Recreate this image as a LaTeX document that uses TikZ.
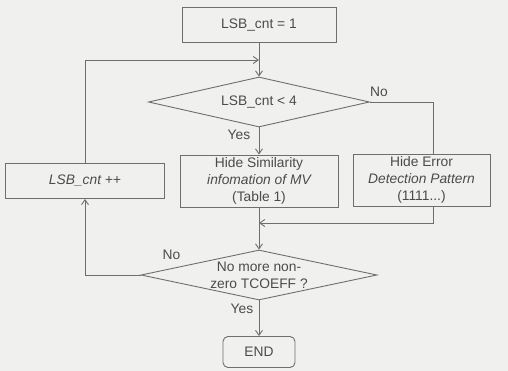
\documentclass[tikz,border=0pt]{standalone}
\usepackage{fontspec}
\setmainfont{Liberation Sans}
\usepackage{tikz}
\usetikzlibrary{arrows.meta,shapes.geometric}

\definecolor{linegray}{RGB}{110,110,110}
\definecolor{textgray}{RGB}{75,75,75}
\definecolor{paper}{RGB}{240,240,238}

\begin{document}
\begin{tikzpicture}[x=1pt,y=-1pt]
        \tikzstyle{every node}+=[inner sep=0pt,text=textgray,font=\fontsize{13.8}{17}\selectfont,align=center]
        \tikzstyle{procbox}=[draw=linegray,line width=0.9pt,rectangle]
        \tikzstyle{testbox}=[draw=linegray,line width=0.9pt,diamond,text width=0pt]
        \tikzstyle{flow}=[draw=linegray,line width=0.9pt,-{Straight Barb[length=5pt,width=7pt]}]
        \tikzstyle{wire}=[draw=linegray,line width=0.9pt]
        \fill [paper] (0,0) rectangle (508,371);
        \useasboundingbox (0,0) rectangle (508,371);
        % boxes
        \node [procbox,minimum width=154pt,minimum height=35pt] (init) at (259,25) {LSB\_cnt = 1};
        \node [testbox,minimum width=221pt,minimum height=50pt] (test1) at (259,102) {};
        \node at (test1) {LSB\_cnt < 4};
        \node [procbox,minimum width=159pt,minimum height=35pt] (inc) at (85,181) {\itshape LSB\_cnt ++};
        \node [procbox,minimum width=158pt,minimum height=52pt] (hide) at (259,181) {Hide Similarity\\\itshape infomation of MV\\(Table 1)};
        \node [procbox,minimum width=137pt,minimum height=52pt] (err) at (421.5,180) {Hide Error\\\itshape Detection Pattern\\(1111...)};
        \node [testbox,minimum width=236pt,minimum height=50pt] (test2) at (259,275) {};
        \node at (test2) {No more non-\\zero TCOEFF ?};
        \node [procbox,rounded corners=5pt,minimum width=72pt,minimum height=31pt] (stop) at (259,352) {END};
        \coordinate (join1) at (259,60);
        \coordinate (join2) at (259,223);
        % connectors
        \draw [flow] (init.south) -- (test1.north);
        \draw [flow] (inc.north) |- (join1);
        \draw [flow] (test1.south) -- (hide.north);
        \draw (test1.south) ++(-20,7) node {Yes};
        \draw [wire] (test1.east) -| ([xshift=12pt]err.north);
        \draw (test1.east) ++(9,-10) node {No};
        \draw [flow] ([xshift=12pt]err.south) |- (join2);
        \draw [flow] (hide.south) -- (test2.north);
        \draw [flow] (test2.west) -| (inc.south);
        \draw (test2.west) ++(31,-20) node {No};
        \draw [flow] (test2.south) -- (stop.north);
        \draw (test2.south) ++(-17,8) node {Yes};
\end{tikzpicture}
\end{document}
